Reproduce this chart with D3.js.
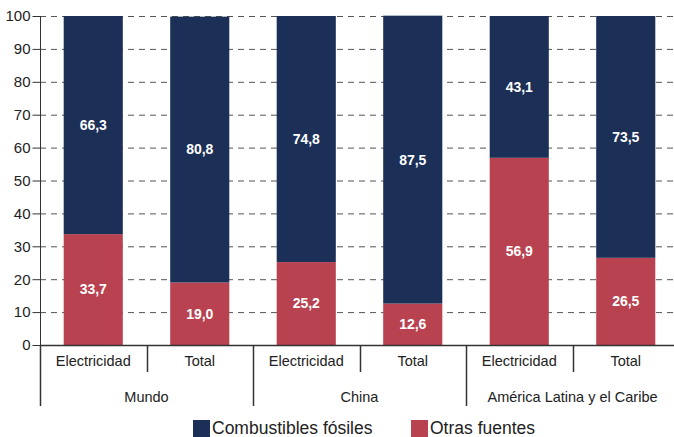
<!DOCTYPE html>
<html><head><meta charset="utf-8">
<script src="https://cdn.jsdelivr.net/npm/d3@7"></script>
<style>body{margin:0;background:#fff}svg{display:block}text{font-family:"Liberation Sans",Arial,sans-serif}</style>
</head><body><svg id="c" width="674" height="437"></svg>
<script>
const groups = ["Mundo","China","América Latina y el Caribe"];
const subcats = ["Electricidad","Total","Electricidad","Total","Electricidad","Total"];
const fosiles = [66.3,80.8,74.8,87.5,43.1,73.5];
const otras = [33.7,19.0,25.2,12.6,56.9,26.5];
const yTicks = [0,10,20,30,40,50,60,70,80,90,100];
const seriesNames = ["Combustibles fósiles","Otras fuentes"];
const colors = ["#1b2f57","#b94251"];

const svg = d3.select("#c");
const x0 = 40, x1 = 679, yTop = 16, yBot = 345;
const x = d3.scaleBand().domain(d3.range(6)).range([x0,x1]).paddingInner(0.445).paddingOuter(0.2225);
const y = d3.scaleLinear().domain([0,100]).range([yBot,yTop]);
const fmt = v => v.toFixed(1).replace(".",",");

// grid
svg.append("g").selectAll("line").data(yTicks.filter(d=>d>0)).join("line")
  .attr("x1",x0).attr("x2",674).attr("y1",d=>y(d)+0.5).attr("y2",d=>y(d)+0.5)
  .attr("stroke","#555").attr("stroke-width",1).attr("stroke-dasharray","6,5");

// bars
const data = d3.range(6).map(i=>({i, f:fosiles[i], o:otras[i]}));
const g = svg.append("g");
g.selectAll(".o").data(data).join("rect").attr("x",d=>x(d.i)).attr("width",x.bandwidth())
  .attr("y",d=>y(d.o)).attr("height",d=>y(0)-y(d.o)).attr("fill",colors[1]);
g.selectAll(".f").data(data).join("rect").attr("x",d=>x(d.i)).attr("width",x.bandwidth())
  .attr("y",d=>y(d.o+d.f)).attr("height",d=>y(d.o)-y(d.o+d.f)).attr("fill",colors[0]);
g.selectAll(".lo").data(data).join("text").attr("x",d=>x(d.i)+x.bandwidth()/2).attr("y",d=>y(d.o/2))
  .attr("dy","0.35em").attr("text-anchor","middle").attr("fill","#fff").attr("font-weight","bold").attr("font-size",14).text(d=>fmt(d.o));
g.selectAll(".lf").data(data).join("text").attr("x",d=>x(d.i)+x.bandwidth()/2).attr("y",d=>y(d.o+d.f/2))
  .attr("dy","0.35em").attr("text-anchor","middle").attr("fill","#fff").attr("font-weight","bold").attr("font-size",14).text(d=>fmt(d.f));

// y axis
const ya = svg.append("g").attr("transform",`translate(${x0+0.5},0)`)
  .call(d3.axisLeft(y).tickValues(yTicks).tickSize(8).tickPadding(2).tickFormat(d3.format("d")));
ya.select(".domain").attr("stroke","#333").attr("d",`M0,${yTop}V${yBot}`);
ya.selectAll(".tick line").attr("stroke","#333");
ya.selectAll("text").attr("font-size",15).attr("fill","#222").attr("font-family","Liberation Sans, Arial, sans-serif");

// x axis baseline
svg.append("line").attr("x1",x0).attr("x2",674).attr("y1",yBot+0.5).attr("y2",yBot+0.5).attr("stroke","#333").attr("stroke-width",1.5);
const step = x.step();
svg.append("g").selectAll("line").data([1,3,5]).join("line")
  .attr("x1",i=>Math.round(x0+step*i)+0.5).attr("x2",i=>Math.round(x0+step*i)+0.5)
  .attr("y1",yBot).attr("y2",372).attr("stroke","#333").attr("stroke-width",1.5);
svg.append("g").selectAll("line").data([0,2,4]).join("line")
  .attr("x1",i=>Math.round(x0+step*i)+0.5).attr("x2",i=>Math.round(x0+step*i)+0.5)
  .attr("y1",yBot).attr("y2",406).attr("stroke","#333").attr("stroke-width",1.5);
svg.append("g").selectAll("text").data(subcats).join("text")
  .attr("x",(d,i)=>x0+step*(i+0.5)).attr("y",361).attr("dy","0.35em").attr("text-anchor","middle")
  .attr("font-size",14.5).attr("fill","#222").text(d=>d);
svg.append("g").selectAll("text").data(groups).join("text")
  .attr("x",(d,i)=>x0+step*(2*i+1)).attr("y",397).attr("dy","0.35em").attr("text-anchor","middle")
  .attr("font-size",14.5).attr("fill","#222").text(d=>d);

// legend
const leg = [{n:seriesNames[0],c:colors[0],x:193},{n:seriesNames[1],c:colors[1],x:411}];
const lg = svg.append("g");
lg.selectAll("rect").data(leg).join("rect").attr("x",d=>d.x).attr("y",420).attr("width",17).attr("height",17).attr("fill",d=>d.c);
lg.selectAll("text").data(leg).join("text").attr("x",d=>d.x+19).attr("y",427.5).attr("dy","0.35em")
  .attr("font-size",17.5).attr("fill","#222").text(d=>d.n);
</script></body></html>
